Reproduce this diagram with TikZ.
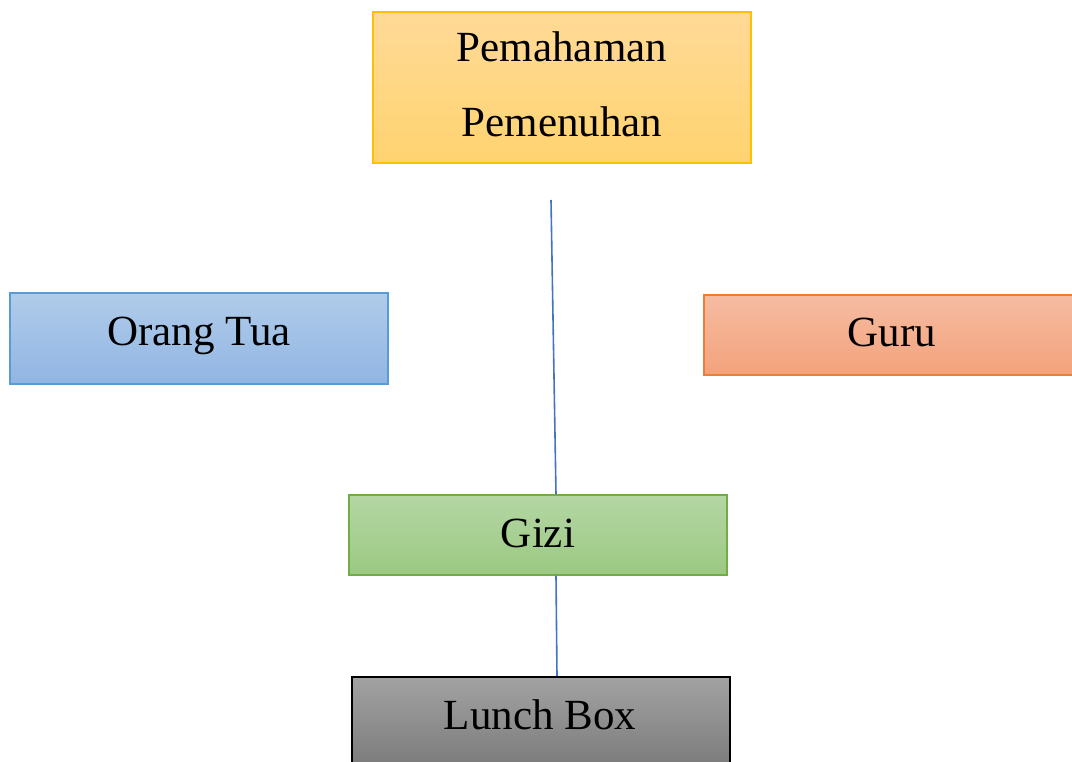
\documentclass[tikz,border=0pt]{standalone}
\usepackage{fontspec}
\setmainfont{Liberation Serif}
\usetikzlibrary{calc}
\begin{document}
\begin{tikzpicture}[x=1pt,y=-1pt,
  boxbase/.style={draw,rectangle,inner sep=0pt,line width=1.5pt},
  lbl/.style={inner sep=0pt,font=\fontsize{43}{75}\selectfont,text=black},
  ylw/.style={boxbase,draw=yellowB,top color=yellowT,bottom color=yellowD},
  blu/.style={boxbase,draw=blueB,top color=blueT,bottom color=blueD},
  org/.style={boxbase,draw=orangeB,top color=orangeT,bottom color=orangeD},
  grn/.style={boxbase,draw=greenB,top color=greenT,bottom color=greenD},
  gry/.style={boxbase,draw=black,line width=2pt,top color=grayT,bottom color=grayD},
  conn/.style={draw=lineB,line width=1.6pt}]
\definecolor{yellowB}{HTML}{FFC000}\definecolor{yellowT}{HTML}{FFDA97}\definecolor{yellowD}{HTML}{FFD370}
\definecolor{blueB}{HTML}{5B9BD5}\definecolor{blueT}{HTML}{B0CCEA}\definecolor{blueD}{HTML}{91B5E3}
\definecolor{orangeB}{HTML}{ED7D31}\definecolor{orangeT}{HTML}{F6BCA2}\definecolor{orangeD}{HTML}{F3A27B}
\definecolor{greenB}{HTML}{70AD47}\definecolor{greenT}{HTML}{B4D6A4}\definecolor{greenD}{HTML}{9BC982}
\definecolor{grayT}{HTML}{A2A2A2}\definecolor{grayD}{HTML}{777777}
\definecolor{lineB}{HTML}{4472C4}
\useasboundingbox (0,0) rectangle (1072,762);
% boxes
\node[ylw,minimum width=378pt,minimum height=151pt] (top) at (562,87.5) {};
\node[blu,minimum width=378pt,minimum height=91pt] (ortu) at (199,338.5) {};
\node[org,minimum width=376pt,minimum height=80pt] (guru) at (892,335) {};
\node[grn,minimum width=378pt,minimum height=80pt] (gizi) at (538,535) {};
\node[gry,minimum width=378pt,minimum height=100pt] (lunch) at (541,727) {};
% labels
\node[lbl,anchor=base] (t1) at (562,62) {Pemahaman};
\node[lbl,anchor=base] (t2) at (562,137) {Pemenuhan};
\node[lbl,anchor=base] (t3) at (199,345) {Orang Tua};
\node[lbl,anchor=base] (t4) at (892,347) {Guru};
\node[lbl,anchor=base] (t5) at (538,547) {Gizi};
\node[lbl,anchor=base] (t6) at (540,729) {Lunch Box};
% connectors
\coordinate (c1) at (551,200);
\coordinate (g1) at ($(gizi.north)+(18,0)$);
\coordinate (g2) at ($(gizi.south)+(18,0)$);
\coordinate (l1) at ($(lunch.north)+(16,0)$);
\draw[conn] (c1) -- (g1);
\draw[conn] (g2) -- (l1);
\end{tikzpicture}
\end{document}
